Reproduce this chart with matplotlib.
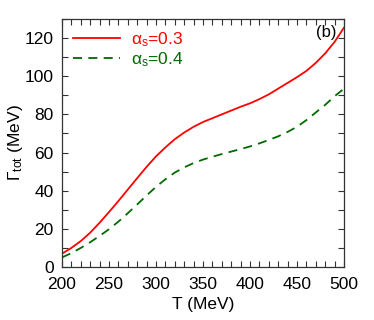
import matplotlib
matplotlib.use("Agg")
import matplotlib.pyplot as plt
from matplotlib.ticker import MultipleLocator

plt.rcParams['font.family'] = ['Liberation Sans', 'DejaVu Sans']
plt.rcParams['mathtext.fontset'] = 'custom'
plt.rcParams['mathtext.rm'] = 'Liberation Sans'
plt.rcParams['mathtext.it'] = 'Liberation Sans:italic'

# temperature grid (MeV)
T = [200, 210, 220, 230, 240, 250, 260, 270, 280, 290, 300,
     310, 320, 330, 340, 350, 360, 370, 380, 390, 400,
     410, 420, 430, 440, 450, 460, 470, 480, 490, 500]

# total width for alpha_s = 0.3
gamma_03 = [7.0, 10.0, 13.6, 18.0, 23.2, 28.8, 34.6, 40.6, 46.6, 52.5, 58.0,
            62.7, 67.0, 70.5, 73.5, 76.0, 78.0, 80.0, 82.0, 84.0, 85.8,
            88.0, 90.5, 93.5, 96.5, 99.5, 102.8, 107.0, 112.0, 118.0, 125.5]

# total width for alpha_s = 0.4
gamma_04 = [5.0, 7.3, 10.0, 13.0, 16.3, 19.8, 23.8, 28.2, 32.8, 37.5, 42.0,
            46.0, 49.5, 52.2, 54.5, 56.3, 57.8, 59.2, 60.5, 61.8, 63.2,
            64.8, 66.6, 68.5, 70.8, 73.5, 77.0, 81.0, 85.0, 89.5, 93.5]

red = '#ff0000'
green = '#006a00'

fig = plt.figure(figsize=(3.74, 3.2), dpi=100)
ax = fig.add_axes([62 / 374, 1 - 267 / 320, 282 / 374, 248 / 320])

ax.plot(T, gamma_03, color=red, lw=1.3, label='α$_\\mathrm{s}$=0.3')
ax.plot(T, gamma_04, color=green, lw=1.3, dashes=(5, 3.5), label='α$_\\mathrm{s}$=0.4')

ax.set_xlim(200, 500)
ax.set_ylim(0, 130)
ax.xaxis.set_major_locator(MultipleLocator(50))
ax.xaxis.set_minor_locator(MultipleLocator(10))
ax.yaxis.set_major_locator(MultipleLocator(20))
ax.yaxis.set_minor_locator(MultipleLocator(10))
ax.tick_params(which='both', direction='in', top=True, right=True,
               length=4, width=0.8, color='#333333', labelsize=12.5)
ax.tick_params(axis='x', pad=7)
ax.tick_params(axis='y', pad=6)
for s in ax.spines.values():
    s.set_color('#333333')
    s.set_linewidth(0.9)

ax.set_xlabel('T (MeV)', fontsize=12.5, labelpad=4)
ax.set_ylabel('Γ$_\\mathrm{tot}$ (MeV)', fontsize=12.5, labelpad=0)

leg = ax.legend(loc='upper left', frameon=False, fontsize=12.5, handlelength=2.7,
                handletextpad=0.6, labelspacing=0.05, borderaxespad=0.25,
                bbox_to_anchor=(0.0, 1.0))
for txt, c in zip(leg.get_texts(), [red, green]):
    txt.set_color(c)

ax.text(0.975, 0.975, '(b)', transform=ax.transAxes, ha='right', va='top', fontsize=12)

fig.savefig('out.png', dpi=100)
